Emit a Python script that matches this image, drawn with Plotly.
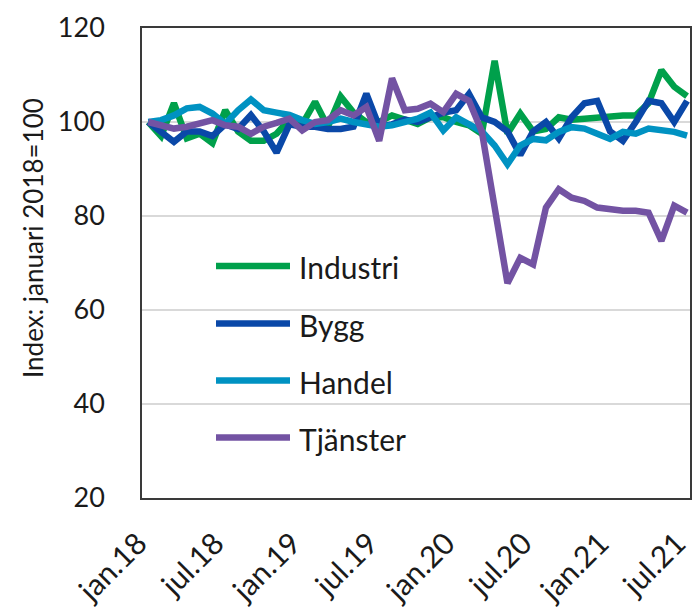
import plotly.graph_objects as go

months = list(range(43))
tick_vals = [0, 6, 12, 18, 24, 30, 36, 42]
tick_text = ["jan.18", "jul.18", "jan.19", "jul.19", "jan.20", "jul.20", "jan.21", "jul.21"]

industri = [100, 97, 104, 96.5, 97.5, 95.5, 102.5, 98, 96, 96, 97.5, 100.5, 99.5, 104.3, 99,
            105.4, 102, 100, 100, 101.4, 100.5, 99.6, 101, 101, 100, 99.3, 97.5, 113, 97.5,
            101.8, 98, 98.5, 101, 100.5, 100.7, 101, 101, 101.4, 101.4, 104, 111, 107.5, 105.5]
bygg = [100, 98, 95.8, 98, 98, 97, 99.5, 98.5, 101.5, 98, 93.5, 99.5, 99, 99, 98.5, 98.5,
        99, 106, 99, 99.5, 100.5, 100, 101, 102, 102.5, 106, 101, 100, 98, 93, 98, 100, 96.5,
        101, 104, 104.5, 98, 96, 100, 104.5, 104, 100, 104.5]
handel = [100, 100.4, 101.4, 102.9, 103.2, 101.8, 99.6, 102.5, 104.8, 102.5, 102, 101.5,
          100.4, 99.6, 100, 100.7, 100, 99.6, 99, 99.3, 100, 100.7, 102, 98.2, 101, 99.6, 98,
          95, 91, 95, 96.4, 96.1, 97.9, 98.9, 98.6, 97.5, 96.4, 97.9, 97.5, 98.6, 98.2, 97.9, 97.1]
tjanster = [100, 99.3, 98.6, 99, 99.6, 100.4, 99.3, 99, 97.5, 99, 99.8, 100.7, 98.2, 100,
            100.4, 102.5, 101.4, 103.2, 96, 109.3, 102.5, 102.8, 103.9, 102.1, 106, 104.5, 98,
            82, 65.7, 71.1, 69.7, 81.8, 85.7, 83.9, 83.2, 81.8, 81.4, 81.1, 81.1, 80.7, 74.7,
            82.2, 80.7]

series_names = ["Industri", "Bygg", "Handel", "Tjänster"]
series_values = [industri, bygg, handel, tjanster]
series_colors = ["#00A04B", "#0A48A8", "#0092C2", "#7353A3"]

FONT = "Lato, Carlito, Calibri, Liberation Sans, sans-serif"
TXT = "#1a1a1a"

fig = go.Figure()
for name, vals, col in zip(series_names, series_values, series_colors):
    fig.add_trace(go.Scatter(x=months, y=vals, mode="lines", name=name,
                             line=dict(color=col, width=6.5), showlegend=False))

# plot area in pixels
L, R, T, B = 142, 690, 28, 498
W, H = R - L, B - T

def px(x):
    return (x - L) / W

def py(y):
    return (B - y) / H

# manual legend (long line samples as in the original)
leg_y = [266, 323.5, 380.5, 437.5]
for name, col, yy in zip(series_names, series_colors, leg_y):
    fig.add_shape(type="line", xref="paper", yref="paper",
                  x0=px(216), x1=px(290), y0=py(yy), y1=py(yy),
                  line=dict(color=col, width=6.5))
    fig.add_annotation(xref="paper", yref="paper", x=px(297), y=py(yy + 1),
                       text=name, showarrow=False, xanchor="left", yanchor="middle",
                       font=dict(family=FONT, size=30, color=TXT))

# y axis title
fig.add_annotation(xref="paper", yref="paper", x=px(33), y=py(238),
                   text="Index: januari 2018=100", textangle=-90, showarrow=False,
                   xanchor="center", yanchor="middle",
                   font=dict(family=FONT, size=26, color=TXT))

fig.update_xaxes(range=[-0.49, 42.23], tickvals=tick_vals, ticktext=tick_text,
                 tickangle=-45, showgrid=False, zeroline=False, automargin=False,
                 showline=True, mirror=True, linecolor="#3a3a3a", linewidth=1.5,
                 ticks="", ticklabelstandoff=14, ticklabelshift=-10,
                 ticklabeloverflow="allow",
                 tickfont=dict(family=FONT, size=30, color=TXT))
fig.update_yaxes(range=[20, 120], tickvals=[20, 40, 60, 80, 100, 120],
                 showgrid=True, gridcolor="#d9d9d9", gridwidth=2, zeroline=False,
                 automargin=False,
                 showline=True, mirror=True, linecolor="#3a3a3a", linewidth=1.5,
                 ticks="", ticklabelstandoff=30,
                 tickfont=dict(family=FONT, size=27, color=TXT))

fig.update_layout(width=695, height=608, paper_bgcolor="white", plot_bgcolor="white",
                  margin=dict(l=L, r=695 - R, t=T, b=608 - B), showlegend=False)

fig.write_html("out.html", config={"displayModeBar": False},
               post_script="document.body.style.margin='0';document.body.style.overflow='hidden';")
